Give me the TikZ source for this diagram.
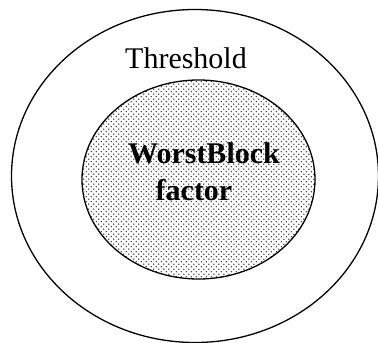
\documentclass[tikz,border=0pt]{standalone}
\usepackage{fontspec}
\setmainfont{Liberation Serif}
\usetikzlibrary{patterns}
\pgfdeclarepatternformonly{mydots}{\pgfpoint{-1pt}{-1pt}}{\pgfpoint{6pt}{6pt}}{\pgfpoint{5pt}{5pt}}{%
  \pgfpathcircle{\pgfpoint{1.25pt}{1.25pt}}{0.75pt}%
  \pgfpathcircle{\pgfpoint{3.75pt}{3.75pt}}{0.75pt}%
  \pgfusepath{fill}%
}
\tikzset{
  ring/.style={draw=black, line width=1.3pt},
  lbl/.style={anchor=base, inner sep=0pt, font=\fontsize{30}{36}\selectfont},
  blbl/.style={lbl, font=\fontsize{30}{36}\selectfont\bfseries}
}
\begin{document}
\begin{tikzpicture}[x=1pt,y=-1pt]
\useasboundingbox (0,0) rectangle (378,343);
\draw[ring] (195,176) ellipse [x radius=183.5, y radius=166.5];
\fill[pattern=mydots, pattern color=black!80] (198.5,179.5) ellipse [x radius=116.5, y radius=99.5];
\draw[ring] (198.5,179.5) ellipse [x radius=116.5, y radius=99.5];
\node[lbl] (thr) at (186,68.3) {Threshold};
\node[blbl] (wb) at (204,163.3) {WorstBlock};
\node[blbl] (fac) at (194,200) {factor};
\end{tikzpicture}
\end{document}
